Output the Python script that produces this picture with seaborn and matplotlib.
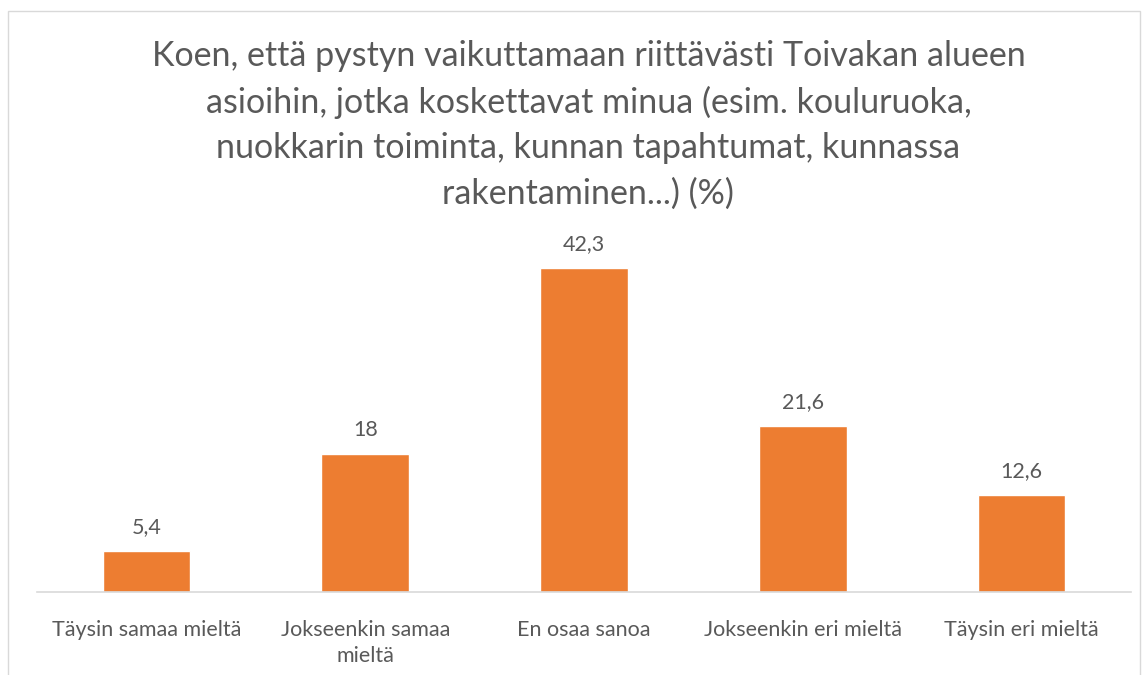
import seaborn as sns
import matplotlib.pyplot as plt
import pandas as pd
from matplotlib.patches import Rectangle

# Data
categories = ['Täysin samaa mieltä', 'Jokseenkin samaa\nmieltä', 'En osaa sanoa',
              'Jokseenkin eri mieltä', 'Täysin eri mieltä']
values = [5.4, 18, 42.3, 21.6, 12.6]
value_labels = ['5,4', '18', '42,3', '21,6', '12,6']

title = ('Koen, että pystyn vaikuttamaan riittävästi Toivakan alueen\n'
         'asioihin, jotka koskettavat minua (esim. kouluruoka,\n'
         'nuokkarin toiminta, kunnan tapahtumat, kunnassa\n'
         'rakentaminen...) (%)')

df = pd.DataFrame({'kategoria': categories, 'arvo': values})

sns.set_style('white')
plt.rcParams['font.family'] = ['Lato', 'DejaVu Sans']

grey = '#595959'
orange = '#ED7D31'

fig = plt.figure(figsize=(11.47, 6.75), dpi=100)
ax = fig.add_axes([0.0323, 0.123, 0.9537, 0.511])

sns.barplot(data=df, x='kategoria', y='arvo', color=orange, width=0.4,
            saturation=1, ax=ax)

ax.set_ylim(0, 45)
ax.set_xlim(-0.5, 4.5)
ax.set_xlabel('')
ax.set_ylabel('')
ax.set_yticks([])
for s in ['top', 'right', 'left']:
    ax.spines[s].set_visible(False)
ax.spines['bottom'].set_color('#D9D9D9')
ax.spines['bottom'].set_linewidth(1.2)
ax.tick_params(axis='x', length=0, pad=20, labelsize=15.5, labelcolor=grey)
for t in ax.get_xticklabels():
    t.set_linespacing(1.4)

for i, (v, lab) in enumerate(zip(values, value_labels)):
    ax.annotate(lab, (i, v), xytext=(0, 10), textcoords='offset points',
                ha='center', va='bottom', fontsize=15.5, color=grey)

fig.text(0.513, 0.94, title, ha='center', va='top', fontsize=24.5,
         color=grey, linespacing=1.5)

# chart frame
fig.patches.append(Rectangle((8 / 1147, -0.1), 1132 / 1147, 1.1 - 11 / 675,
                             transform=fig.transFigure, fill=False,
                             edgecolor='#D9D9D9', linewidth=1))

plt.savefig('out.png', dpi=100)
